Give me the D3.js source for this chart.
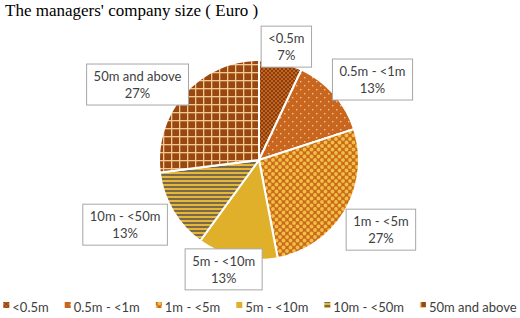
<!DOCTYPE html>
<html>
<head>
<meta charset="utf-8">
<script src="https://cdn.jsdelivr.net/npm/d3@7"></script>
<style>
  body { margin: 0; background: #fff; }
  svg { display: block; }
</style>
</head>
<body>
<script>
// chart data
var categories = ["<0.5m", "0.5m - <1m", "1m - <5m", "5m - <10m", "10m - <50m", "50m and above"];
var values = [7, 13, 27, 13, 13, 27];
var percentLabels = ["7%", "13%", "27%", "13%", "13%", "27%"];
var title = "The managers' company size ( Euro )";

var width = 520, height = 318;
var cx = 259, cy = 160, radius = 100;
var labelFont = "Lato, 'Open Sans', sans-serif";

// nudges for the data label boxes (from the arc at 130px)
var labelNudge = [[-1, 13], [16, 5], [10, 3], [-7, -18], [-22, -2], [-24, 10]];

var svg = d3.select("body").append("svg")
    .attr("width", width)
    .attr("height", height);

// fill patterns, one per slice
var defs = svg.append("defs");

function pat(id, w, h) {
  return defs.append("pattern")
      .attr("id", id)
      .attr("patternUnits", "userSpaceOnUse")
      .attr("width", w)
      .attr("height", h);
}

// <0.5m : small checker
var p0 = pat("p0", 4, 4);
p0.append("rect").attr("width", 4).attr("height", 4).attr("fill", "#8a3d0f");
p0.append("rect").attr("width", 2).attr("height", 2).attr("fill", "#c4651f");
p0.append("rect").attr("x", 2).attr("y", 2).attr("width", 2).attr("height", 2).attr("fill", "#c4651f");

// 0.5m - <1m : dotted
var p1 = pat("p1", 8, 8);
p1.append("rect").attr("width", 8).attr("height", 8).attr("fill", "#c8651e");
p1.append("rect").attr("x", 1).attr("y", 1).attr("width", 1.4).attr("height", 1.4).attr("fill", "#f3c28a");
p1.append("rect").attr("x", 5).attr("y", 5).attr("width", 1.4).attr("height", 1.4).attr("fill", "#f3c28a");

// 1m - <5m : diamonds
var p2 = pat("p2", 7, 7);
p2.append("rect").attr("width", 7).attr("height", 7).attr("fill", "#cc6a1c");
[[0, 0], [7, 0], [0, 7], [7, 7], [3.5, 3.5]].forEach(function(d) {
  p2.append("circle").attr("cx", d[0]).attr("cy", d[1]).attr("r", 1.9).attr("fill", "#f0bf45");
});

// 5m - <10m : solid
var p3 = pat("p3", 4, 4);
p3.append("rect").attr("width", 4).attr("height", 4).attr("fill", "#e0b02a");

// 10m - <50m : horizontal stripes
var p4 = pat("p4", 4, 4);
p4.append("rect").attr("width", 4).attr("height", 4).attr("fill", "#e6b63a");
p4.append("rect").attr("y", 2).attr("width", 4).attr("height", 2).attr("fill", "#7a6a4c");

// 50m and above : grid
var p5 = pat("p5", 8, 8);
p5.append("rect").attr("width", 8).attr("height", 8).attr("fill", "#9a4812");
p5.append("rect").attr("width", 8).attr("height", 1.3).attr("fill", "#f2c98e");
p5.append("rect").attr("width", 1.3).attr("height", 8).attr("fill", "#f2c98e");

var fills = ["url(#p0)", "url(#p1)", "url(#p2)", "url(#p3)", "url(#p4)", "url(#p5)"];

// title
svg.append("text")
    .attr("x", 5)
    .attr("y", 16)
    .style("font-family", "'Liberation Serif', 'Times New Roman', serif")
    .style("font-size", "17px")
    .attr("fill", "#000")
    .text(title);

// pie
var pie = d3.pie().sort(null).value(function(d) { return d; });
var arcs = pie(values);
var arc = d3.arc().innerRadius(0).outerRadius(radius);
var labelArc = d3.arc().innerRadius(130).outerRadius(130);

var g = svg.append("g")
    .attr("transform", "translate(" + cx + "," + cy + ")");

g.selectAll("path.slice")
    .data(arcs)
  .enter().append("path")
    .attr("class", "slice")
    .attr("d", arc)
    .attr("fill", function(d, i) { return fills[i]; })
    .attr("stroke", "#fff")
    .attr("stroke-width", 2);

// data labels
var lab = g.selectAll("g.lab")
    .data(arcs)
  .enter().append("g")
    .attr("class", "lab")
    .attr("transform", function(d, i) {
      var c = labelArc.centroid(d);
      return "translate(" + (c[0] + labelNudge[i][0]) + "," + (c[1] + labelNudge[i][1]) + ")";
    });

lab.append("rect").attr("class", "box");

lab.append("text")
    .attr("text-anchor", "middle")
    .style("font-family", labelFont)
    .style("font-size", "13px")
    .attr("fill", "#404040")
    .each(function(d, i) {
      var t = d3.select(this);
      t.append("tspan").attr("x", 0).attr("y", -3).text(categories[i]);
      t.append("tspan").attr("x", 0).attr("y", 14).text(percentLabels[i]);
    });

lab.each(function() {
  var gg = d3.select(this);
  var bb = gg.select("text").node().getBBox();
  gg.select("rect.box")
      .attr("x", bb.x - 7)
      .attr("y", bb.y - 4)
      .attr("width", bb.width + 14)
      .attr("height", bb.height + 8)
      .attr("fill", "#fff")
      .attr("stroke", "#a6a6a6")
      .attr("stroke-width", 1);
});

// legend
var legend = svg.append("g");
var items = legend.selectAll("g.item")
    .data(categories)
  .enter().append("g")
    .attr("class", "item");

items.append("rect")
    .attr("y", -5)
    .attr("width", 6)
    .attr("height", 6)
    .attr("fill", function(d, i) { return fills[i]; });

items.append("text")
    .attr("x", 9)
    .attr("y", 1)
    .attr("dy", "0.3em")
    .style("font-family", labelFont)
    .style("font-size", "13px")
    .attr("fill", "#404040")
    .text(function(d) { return d; });

var xpos = 0, gap = 16;
items.each(function() {
  var it = d3.select(this);
  it.attr("transform", "translate(" + xpos + ",0)");
  xpos += 9 + it.select("text").node().getComputedTextLength() + gap;
});
var total = xpos - gap;
legend.attr("transform", "translate(" + ((width - total) / 2) + ",307)");
</script>
</body>
</html>
